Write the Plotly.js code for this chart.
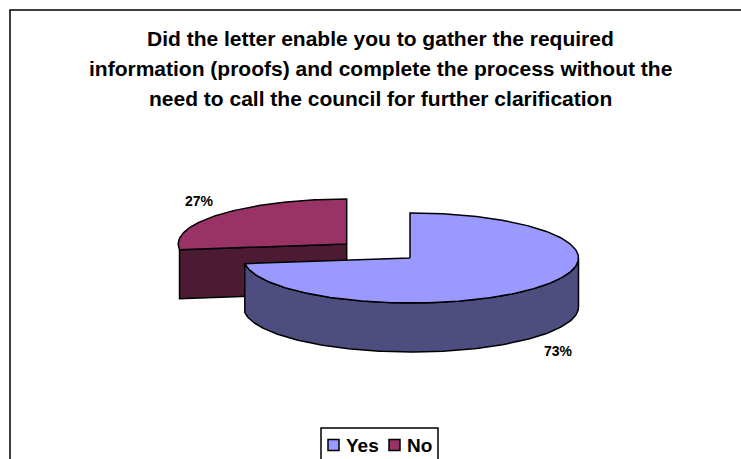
<!DOCTYPE html>
<html>
<head>
<meta charset="utf-8">
<script src="https://cdn.plot.ly/plotly-3.0.1.min.js"></script>
<style>html,body{margin:0;padding:0;background:#fff;overflow:hidden}</style>
</head>
<body>
<div id="chart" style="width:741px;height:459px"></div>
<script>
// Survey answers
const categories = ["Yes", "No"];
const percentages = [73, 27];
const titleLines = [
  "Did the letter enable you to gather the required",
  "information (proofs) and complete the process without the",
  "need to call the council for further clarification"
];

// Slice styling and placement on a pixel-sized plot
const topColors = ["#9999FF", "#993366"];
const sideColors = ["#4D4D80", "#4D1A33"];
const pieCentres = [[411, 258], [346.7, 244]];
const wedgeTips = [[410, 258], [346.7, 244]];
const radiiX = [167.5, 168.5];
const radiusY = 45, depth = 49;
const valueLabelPos = [[558.5, 351], [199, 201]];
const FONT = "Liberation Sans, Arial, sans-serif";
const OUTLINE = {color: "#000000", width: 1.5};

const total = percentages.reduce((a, b) => a + b, 0);
const startAngles = [0, percentages[0] / total * 360];
const endAngles = [percentages[0] / total * 360, 360];

// Point on the tilted rim; angle runs clockwise from twelve o'clock
function rim(i, deg, drop) {
  const r = deg * Math.PI / 180, c = pieCentres[i];
  return [c[0] + radiiX[i] * Math.sin(r), c[1] - radiusY * Math.cos(r) + drop];
}
function arc(i, from, to, drop) {
  const pts = [];
  const n = Math.max(2, Math.ceil(Math.abs(to - from)));
  for (let k = 0; k <= n; k++) pts.push(rim(i, from + (to - from) * k / n, drop));
  return pts;
}
function polygon(pts, fill, name) {
  const closed = pts.concat([pts[0]]);
  return {
    type: "scatter", mode: "lines", name: name, showlegend: false, hoverinfo: "name",
    x: closed.map(p => p[0]), y: closed.map(p => p[1]),
    fill: "toself", fillcolor: fill, line: OUTLINE
  };
}

const traces = [];

// "No" wedge: cut face first, then its top
{
  const i = 1, tip = wedgeTips[i], start = rim(i, startAngles[i], 0);
  const lowerStart = [start[0], start[1] + depth];
  traces.push(polygon([start, tip, [tip[0], tip[1] + depth], lowerStart], sideColors[i], categories[i]));
  traces.push(polygon([tip].concat(arc(i, startAngles[i], endAngles[i], 0)), topColors[i], categories[i]));
}
// "Yes" wedge: outer wall from the rightmost point round to the cut, then its top.
// The straight cut rises vertically from the tip before joining the rim.
{
  const i = 0, tip = wedgeTips[i];
  const upper = arc(i, 90, endAngles[i], 0);
  const lower = arc(i, endAngles[i], 90, depth);
  const topArc = arc(i, startAngles[i], endAngles[i], 0);
  traces.push(polygon(upper.concat(lower), sideColors[i], categories[i]));
  traces.push(polygon([tip, [tip[0], topArc[0][1]]].concat(topArc), topColors[i], categories[i]));
}

const annotations = [];
const lineYs = [38, 68.5, 98.5];
titleLines.forEach((t, i) => annotations.push({
  x: 380, y: lineYs[i], xref: "x", yref: "y", text: "<b>" + t + "</b>", showarrow: false,
  xanchor: "center", yanchor: "middle", font: {family: FONT, size: 21, color: "#000"}
}));
categories.forEach((cat, i) => annotations.push({
  x: valueLabelPos[i][0], y: valueLabelPos[i][1], xref: "x", yref: "y",
  text: "<b>" + percentages[i] + "%</b>", showarrow: false,
  xanchor: "center", yanchor: "middle", font: {family: FONT, size: 14, color: "#000"}
}));

// Key along the bottom edge; its box runs off the page
const keySwatchX = [328, 389], keyTextX = [345, 406];
const shapes = [
  {type: "rect", xref: "x", yref: "y", x0: 10, y0: 10, x1: 760, y1: 480,
   line: {color: "#000", width: 1.5}, fillcolor: "rgba(0,0,0,0)", layer: "below"},
  {type: "rect", xref: "x", yref: "y", x0: 321, y0: 428, x1: 438, y1: 480,
   line: {color: "#000", width: 1.5}, fillcolor: "#fff", layer: "below"}
];
categories.forEach((cat, i) => {
  shapes.push({type: "rect", xref: "x", yref: "y", x0: keySwatchX[i], x1: keySwatchX[i] + 11,
    y0: 439.5, y1: 450.5, fillcolor: topColors[i], line: {color: "#000", width: 1.5}});
  annotations.push({x: keyTextX[i], y: 445.5, xref: "x", yref: "y", text: "<b>" + cat + "</b>",
    showarrow: false, xanchor: "left", yanchor: "middle",
    font: {family: FONT, size: 19, color: "#000"}, borderpad: 0});
});

const hiddenAxis = {visible: false, showgrid: false, zeroline: false, fixedrange: true};
Plotly.newPlot("chart", traces, {
  width: 741, height: 459,
  margin: {l: 0, r: 0, t: 0, b: 0, autoexpand: false},
  paper_bgcolor: "#fff", plot_bgcolor: "#fff",
  xaxis: Object.assign({range: [0, 741]}, hiddenAxis),
  yaxis: Object.assign({range: [459, 0]}, hiddenAxis),
  showlegend: false, annotations: annotations, shapes: shapes
}, {displayModeBar: false, staticPlot: true});
</script>
</body>
</html>
